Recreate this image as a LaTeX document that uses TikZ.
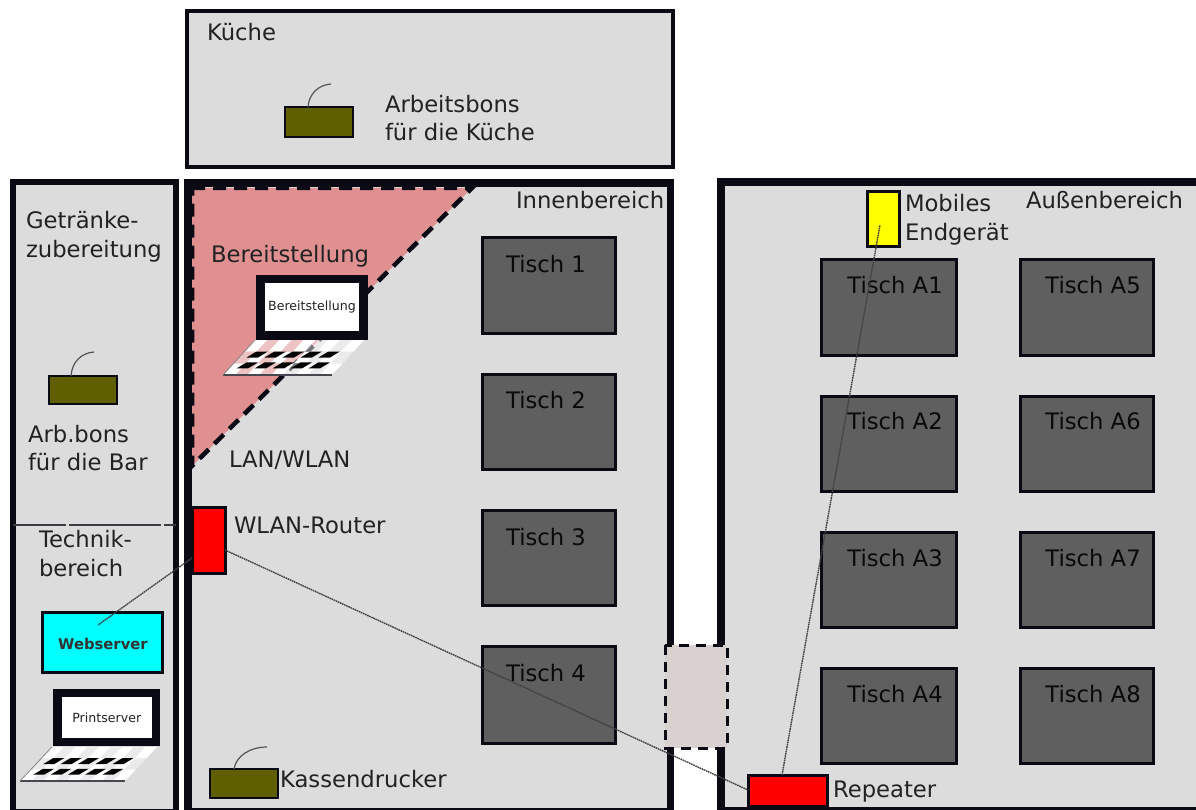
\documentclass[tikz,border=0pt]{standalone}
\usepackage{fontspec}
\setmainfont{DejaVu Sans}
\definecolor{room}{HTML}{DCDCDC}
\definecolor{tablegray}{HTML}{5F5F5F}
\definecolor{olive}{HTML}{5F5F00}
\definecolor{pinkzone}{HTML}{E09090}
\definecolor{doorc}{HTML}{D9D0D0}
\definecolor{ink}{HTML}{0A0A14}
\definecolor{txt}{HTML}{222222}
\definecolor{pureRed}{RGB}{255,0,0}
\definecolor{pureYellow}{RGB}{255,255,0}
\definecolor{pureCyan}{RGB}{0,255,255}
\newcommand{\rectnode}[6][]{% style, name, x1, y1, x2, y2
  \pgfmathsetmacro{\rw}{#5-#3}\pgfmathsetmacro{\rh}{#6-#4}
  \pgfmathsetmacro{\rx}{(#5+#3)/2}\pgfmathsetmacro{\ry}{(#6+#4)/2}
  \node[box,#1,minimum width=\rw pt,minimum height=\rh pt] (#2) at (\rx,\ry) {};}
% keyboard: x0, y0 of its top left corner, top width, height, slant
\newcommand{\KP}[2]{({\KX+(#1)*\KW-(#2)*\KS},{\KY+(#2)*\KH})}
\newcommand{\lapkeys}[5]{%
  \def\KX{#1}\def\KY{#2}\def\KW{#3}\def\KH{#4}\def\KS{#5}%
  \foreach \kc in {0,...,8}{
    \foreach \kr in {0,1,2}{
      \pgfmathtruncatemacro{\kbodd}{mod(\kc+\kr,2)}
      \pgfmathsetmacro{\kua}{\kc/9}\pgfmathsetmacro{\kub}{(\kc+1)/9}
      \pgfmathsetmacro{\kva}{\kr/3}\pgfmathsetmacro{\kvb}{(\kr+1)/3}
      \ifnum\kbodd=0
        \fill[white] \KP{\kua}{\kva} -- \KP{\kub}{\kva} -- \KP{\kub}{\kvb} -- \KP{\kua}{\kvb} -- cycle;
      \else
        \fill[white,opacity=.45] \KP{\kua}{\kva} -- \KP{\kub}{\kva} -- \KP{\kub}{\kvb} -- \KP{\kua}{\kvb} -- cycle;
      \fi
    }
  }
  \draw[line width=1.2pt,ink!75] \KP{0}{1} -- \KP{1}{1};
  \draw[line width=.8pt,ink!50] \KP{0}{1} -- \KP{0}{0};
  \foreach \kc in {0,...,4}{
    \pgfmathsetmacro{\kua}{.07+.165*\kc}\pgfmathsetmacro{\kub}{\kua+.105}
    \pgfmathsetmacro{\kuc}{\kua+.04}\pgfmathsetmacro{\kud}{\kub+.04}
    \fill[black] \KP{\kuc}{.33} -- \KP{\kud}{.33} -- \KP{\kub}{.5} -- \KP{\kua}{.5} -- cycle;
    \fill[black] \KP{\kuc}{.64} -- \KP{\kud}{.64} -- \KP{\kub}{.81} -- \KP{\kua}{.81} -- cycle;
  }
}
\tikzset{
  box/.style={draw=ink,inner sep=0pt,outer sep=0pt,rectangle},
  roomwall/.style={fill=room,line width=#1},
  tisch/.style={fill=tablegray,line width=3pt},
  device/.style={line width=3pt},
  printerbox/.style={fill=olive,line width=2pt},
  lbl/.style={font=\fontsize{22.7}{28.5}\selectfont,text=txt,inner sep=0pt,outer sep=0pt,align=left},
  tlbl/.style={lbl,text=black!90!tablegray},
  tiny/.style={font=\fontsize{12.6}{14}\selectfont,text=txt,inner sep=0pt},
  link/.style={draw=black!75,line width=1.4pt,dash pattern=on 1.6pt off .7pt},
  cable/.style={draw=ink!70,line width=1.2pt},
}
\begin{document}
\begin{tikzpicture}[x=1pt,y=-1pt]
\useasboundingbox (0,0) rectangle (1196,810);
\clip (0,0) rectangle (1196,810);
\fill[white] (0,0) rectangle (1196,810);
% rooms
\rectnode[roomwall=3.5pt]{kueche}{187}{11}{673}{167}
\rectnode[roomwall=5.5pt]{bar}{13}{182}{176}{812}
\rectnode[roomwall=7.5pt]{innen}{188}{183}{670.5}{812}
\rectnode[roomwall=8pt]{aussen}{721}{182}{1210}{811}
% divider
\draw[draw=ink!80,line width=1.1pt] (bar.west |- 0,525) -- (66,525) (69,525) -- (161,525) (164,525) -- (bar.east |- 0,525);
% Bereitstellung zone
\coordinate (za) at (192,188);
\coordinate (zb) at (472,188);
\coordinate (zc) at (192,466);
\fill[pinkzone] (za) -- (zb) -- (zc) -- cycle;
\draw[ink,line width=4.5pt,dash pattern=on 13pt off 8pt] (za) -- (zb) -- (zc) -- cycle;
% tables
\rectnode[tisch]{t1}{482.5}{238}{615}{333}
\rectnode[tisch]{t2}{482.5}{374}{615}{469}
\rectnode[tisch]{t3}{482.5}{510}{615}{605}
\rectnode[tisch]{t4}{482.5}{646}{615}{743}
\rectnode[tisch]{a1}{821.5}{260}{956}{355}
\rectnode[tisch]{a2}{821.5}{396}{956}{491}
\rectnode[tisch]{a3}{821.5}{532}{956}{627}
\rectnode[tisch]{a4}{821.5}{668}{956}{763}
\rectnode[tisch]{a5}{1020.5}{260}{1153}{355}
\rectnode[tisch]{a6}{1020.5}{396}{1153}{491}
\rectnode[tisch]{a7}{1020.5}{532}{1153}{627}
\rectnode[tisch]{a8}{1020.5}{668}{1153}{763}
\node[tlbl] (t1l) at (546,264) {Tisch 1};
\node[tlbl] (t2l) at (546,400) {Tisch 2};
\node[tlbl] (t3l) at (546,537) {Tisch 3};
\node[tlbl] (t4l) at (546,673) {Tisch 4};
\node[tlbl] (a1l) at (895,285) {Tisch A1};
\node[tlbl] (a2l) at (895,421) {Tisch A2};
\node[tlbl] (a3l) at (895,558) {Tisch A3};
\node[tlbl] (a4l) at (895,694) {Tisch A4};
\node[tlbl] (a5l) at (1093,285) {Tisch A5};
\node[tlbl] (a6l) at (1093,421) {Tisch A6};
\node[tlbl] (a7l) at (1093,558) {Tisch A7};
\node[tlbl] (a8l) at (1093,694) {Tisch A8};
% door
\rectnode[draw=none,fill=doorc]{door}{665}{645}{727}{748}
\draw[ink,line width=3pt,dash pattern=on 10pt off 7pt] (door.north west) rectangle (door.south east);
% devices
\rectnode[device,fill=pureRed]{router}{192}{507}{225}{573}
\rectnode[device,fill=pureRed]{repeater}{748}{775}{827}{806}
\rectnode[device,fill=pureYellow]{mobile}{867}{192}{899}{247}
\rectnode[device,fill=pureCyan]{web}{42}{612}{162}{672}
\node[font=\fontsize{14.8}{16}\selectfont\bfseries,text=black!80,inner sep=0pt] (webl) at (103,644) {Webserver};
% laptop Bereitstellung
\lapkeys{255}{340}{109}{35}{32}
\rectnode[fill=white,line width=8.5pt]{lap1}{260.5}{279}{363.5}{335.5}
\node[tiny] (lap1l) at (lap1) {Bereitstellung};
% laptop Printserver
\lapkeys{52}{747}{105}{34}{32}
\rectnode[fill=white,line width=8.5pt]{lap2}{57.5}{693}{156}{742}
\node[tiny] (lap2l) at (lap2) {Printserver};
% printers
\rectnode[printerbox]{pk}{285}{107}{353}{137}
\rectnode[printerbox]{pb}{49}{376}{117}{404}
\rectnode[printerbox]{pd}{210}{769}{278}{798}
\coordinate (pkc) at (331,84);
\coordinate (pbc) at (94,352);
\coordinate (pdc) at (267,747);
\draw[cable] (308,107) .. controls (309,94) and (318,85) .. (pkc);
\draw[cable] (71,376) .. controls (72,362) and (81,353) .. (pbc);
\draw[cable] (234,769) .. controls (236,756) and (250,747) .. (pdc);
% links
\coordinate (webend) at (98,625);
\coordinate (mobend) at (880,225);
\draw[link] (router.west |- 0,558) -- (webend);
\draw[link] (router.east |- 0,550) -- (repeater.west |- 0,790);
\draw[link] (repeater.north -| 782,0) -- (mobend);
% labels
\node[lbl,anchor=base west] (lk) at (207,41) {Küche};
\node[lbl,anchor=west] (lab) at (385,118) {Arbeitsbons\\für die Küche};
\node[lbl,anchor=west] (lg) at (26,236.5) {Getränke-\\zubereitung};
\node[lbl,anchor=west] (lar) at (28,448) {Arb.bons\\für die Bar};
\node[lbl,anchor=west] (lt) at (39,553.5) {Technik-\\bereich};
\node[lbl,anchor=base west] (lbe) at (211,262) {Bereitstellung};
\node[lbl,anchor=base west] (lan) at (229,467) {LAN/WLAN};
\node[lbl,anchor=base west] (lro) at (234,533) {WLAN-Router};
\node[lbl,anchor=base west] (lin) at (516,209) {Innenbereich};
\node[lbl,anchor=base west] (lau) at (1026,209) {Außenbereich};
\node[lbl,anchor=west] (lmo) at (905,219.5) {Mobiles\\Endgerät};
\node[lbl,anchor=base west] (lre) at (833,797) {Repeater};
\node[lbl,anchor=base west] (lka) at (280,787) {Kassendrucker};
\end{tikzpicture}
\end{document}
